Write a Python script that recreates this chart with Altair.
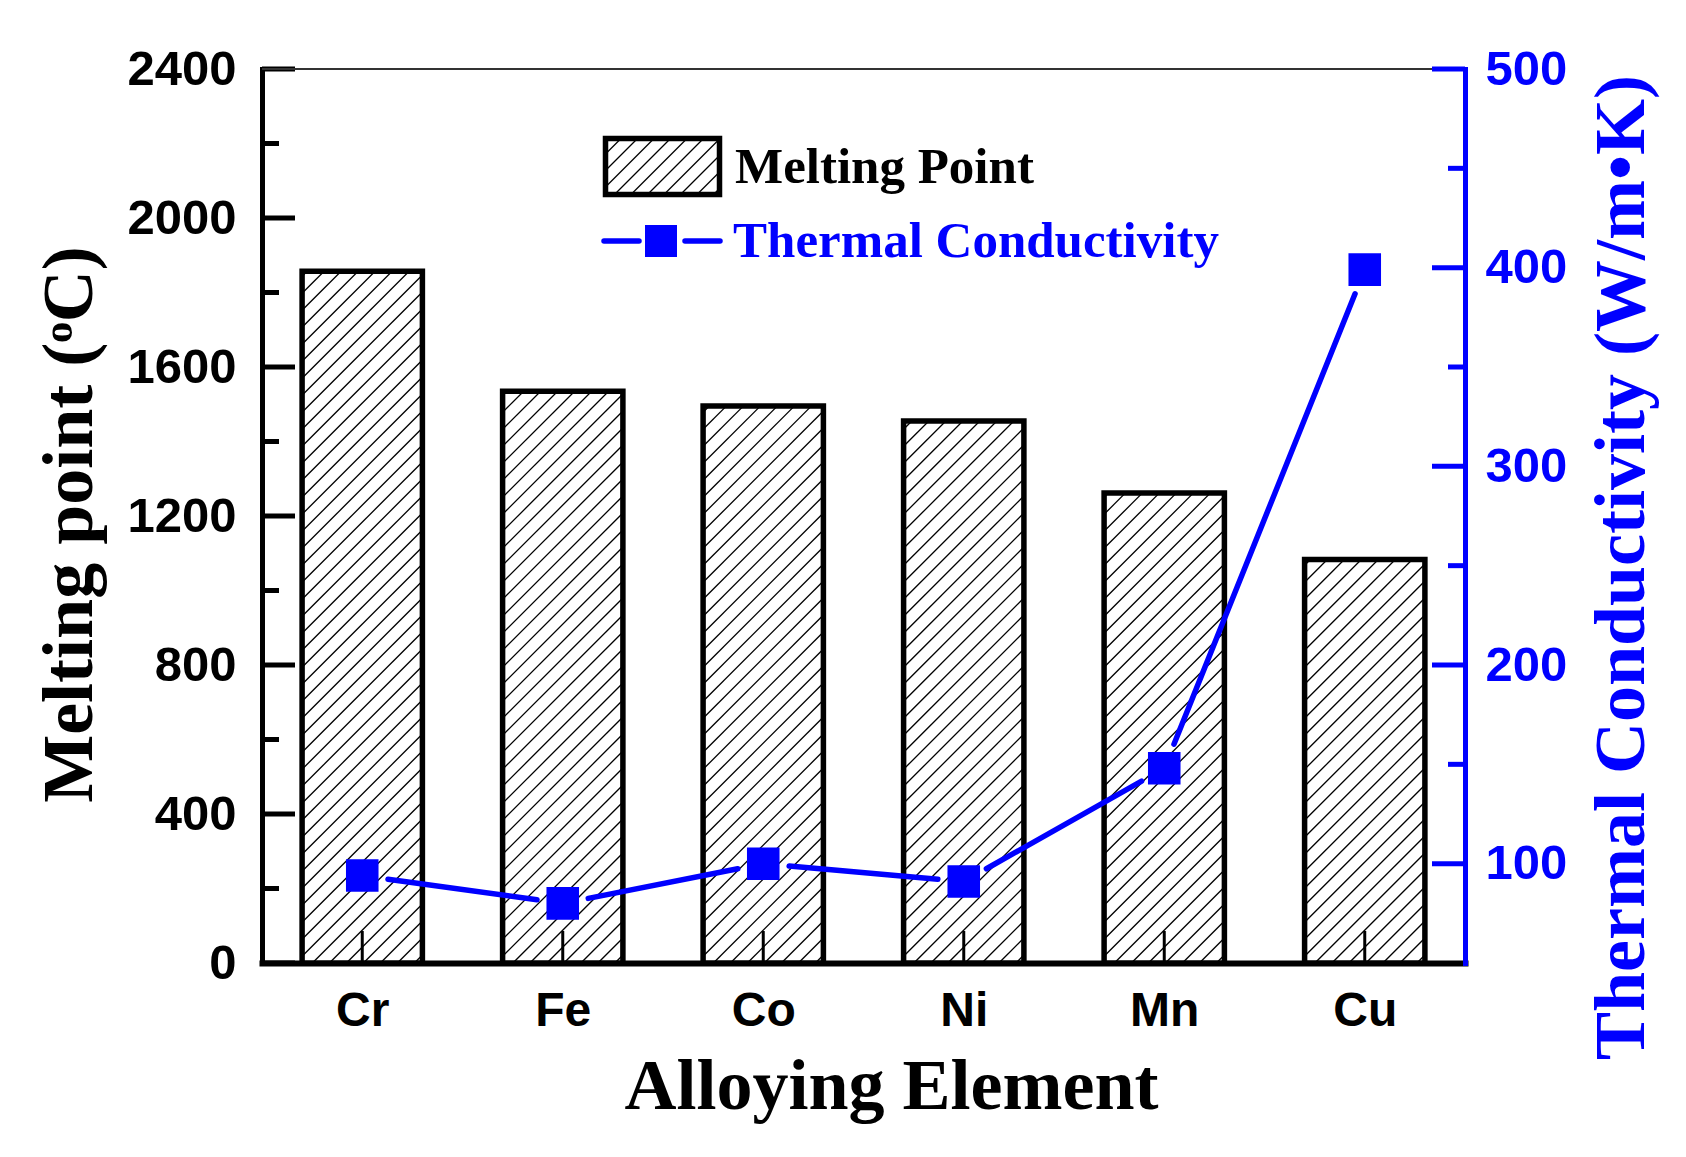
import json
import math
import altair as alt
import pandas as pd

# ---------------- data ----------------
elements = ["Cr", "Fe", "Co", "Ni", "Mn", "Cu"]
melting_point = [1857, 1535, 1495, 1455, 1262, 1083]
thermal_cond = [94, 80, 100, 91, 148, 399]

mp_ticks_major = [0, 400, 800, 1200, 1600, 2000, 2400]
mp_ticks_minor = [200, 600, 1000, 1400, 1800, 2200]
tc_ticks_major = [100, 200, 300, 400, 500]
tc_ticks_minor = [150, 250, 350, 450]

legend_labels = ["Melting Point", "Thermal Conductivity"]
x_title = "Alloying Element"
y_title = "Melting point (ᵒC)"
y2_title = "Thermal Conductivity (W/m•K)"

# ---------------- layout / style ----------------
W, H = 1203, 894
MP_DOMAIN = [0, 2400]
TC_DOMAIN = [50, 500]
X_DOMAIN = [-0.5, len(elements) - 0.5]
HALF = 0.3
BLUE = "#0000FF"
SANS = "Liberation Sans"
SERIF = "Liberation Serif"
HATCH_SP = 17.0
LINE_GAP = 26.0  # pixels between a marker centre and the start of its line segment

df = pd.DataFrame({"idx": list(range(len(elements))), "element": elements,
                   "mp": melting_point, "tc": thermal_cond})

px_x = W / (X_DOMAIN[1] - X_DOMAIN[0])
px_y = H / (MP_DOMAIN[1] - MP_DOMAIN[0])
px_tc = H / (TC_DOMAIN[1] - TC_DOMAIN[0])


def hatch(w, h, spacing, phase=0.0):
    segs = []
    c = -w + phase
    while c < h:
        u0 = max(0.0, -c)
        u1 = min(w, h - c)
        if u1 > u0:
            segs.append((u0, u0 + c, u1, u1 + c))
        c += spacing
    return segs


# hatch lines inside bars (data space, via the chart scales)
rows = []
bw = 2 * HALF * px_x
for i, v in enumerate(melting_point):
    for (u0, v0, u1, v1) in hatch(bw, v * px_y, HATCH_SP, 8.0):
        rows.append({"x0": i - HALF + u0 / px_x, "mp": v0 / px_y,
                     "x1": i - HALF + u1 / px_x, "mp2": v1 / px_y})
hatch_df = pd.DataFrame(rows)

# line segments between markers, with small gaps at the markers (Origin style)
seg_rows = []
for i in range(len(elements) - 1):
    dxp = 1.0 * px_x
    dyp = (thermal_cond[i + 1] - thermal_cond[i]) * px_tc
    L = math.hypot(dxp, dyp)
    f = LINE_GAP / L
    seg_rows.append({
        "sx0": i + f, "tc": thermal_cond[i] + f * (thermal_cond[i + 1] - thermal_cond[i]),
        "sx1": i + 1 - f, "tc2": thermal_cond[i + 1] - f * (thermal_cond[i + 1] - thermal_cond[i]),
    })
seg_df = pd.DataFrame(seg_rows)

# legend geometry (pixels, relative to plot area)
LX0, LX1, LY0, LY1 = 343.5, 457.5, 69.5, 125.5
lrows = []
for (u0, v0, u1, v1) in hatch(LX1 - LX0, LY1 - LY0, 16.5, 6.0):
    lrows.append({"lx0": LX0 + u0, "ly0": LY1 - v0, "lx1": LX0 + u1, "ly1": LY1 - v1})
lhatch_df = pd.DataFrame(lrows)

one = pd.DataFrame({"a": [0]})

xscale = alt.Scale(domain=X_DOMAIN, nice=False, zero=False)
yscale = alt.Scale(domain=MP_DOMAIN, nice=False)
tcscale = alt.Scale(domain=TC_DOMAIN, nice=False, zero=False)

label_expr = json.dumps(elements) + "[datum.value]"

xaxis = alt.Axis(values=list(range(len(elements))), labelExpr=label_expr,
                 ticks=False, tickSize=0, grid=False,
                 domainColor="black", domainWidth=6, domainCap="square",
                 labelFont=SANS, labelFontWeight="bold", labelFontSize=48,
                 labelColor="black", labelPadding=24, labelFlush=False,
                 labelOverlap=False, labelBaseline="top",
                 title=x_title, titleFont=SERIF, titleFontSize=72,
                 titleFontWeight="bold", titleColor="black",
                 titleX=629, titleY=145, titleBaseline="alphabetic",
                 titleAlign="center")

yaxis = alt.Axis(values=mp_ticks_major, ticks=False, tickSize=0, grid=False,
                 domainColor="black", domainWidth=5, domainCap="square",
                 labelFont=SANS, labelFontWeight="bold", labelFontSize=49,
                 labelColor="black", labelPadding=26, labelFlush=False,
                 labelOverlap=False, format="d",
                 title=y_title, titleFont=SERIF, titleFontSize=72,
                 titleFontWeight="bold", titleColor="black", titleAngle=270,
                 titleX=-193, titleY=455, titleAlign="center",
                 titleBaseline="middle")

y2axis = alt.Axis(orient="right", values=tc_ticks_major, ticks=False,
                  tickSize=0, grid=False,
                  domainColor=BLUE, domainWidth=5, domainCap="square",
                  labelFont=SANS, labelFontWeight="bold", labelFontSize=49,
                  labelColor=BLUE, labelPadding=20, labelFlush=False,
                  labelOverlap=False, format="d",
                  title=y2_title, titleFont=SERIF, titleFontSize=72,
                  titleFontWeight="bold", titleColor=BLUE, titleAngle=270,
                  titleX=156, titleY=498, titleAlign="center",
                  titleBaseline="middle")

# ---------------- left (melting point) group ----------------
bars = alt.Chart(df).transform_calculate(
    x0=f"datum.idx - {HALF}", x1=f"datum.idx + {HALF}"
).mark_rect(fill="white", stroke="black", strokeWidth=5.5).encode(
    x=alt.X("x0:Q", scale=xscale, axis=xaxis),
    x2="x1:Q",
    y=alt.Y("mp:Q", scale=yscale, axis=yaxis),
    y2=alt.datum(0),
)

hatch_layer = alt.Chart(hatch_df).mark_rule(color="black", strokeWidth=1.3).encode(
    x=alt.X("x0:Q", scale=xscale),
    x2="x1:Q",
    y=alt.Y("mp:Q", scale=yscale),
    y2="mp2:Q",
)

bottom_ticks = alt.Chart(df).mark_rule(color="black", strokeWidth=3).encode(
    x=alt.X("idx:Q", scale=xscale),
    y=alt.value(H), y2=alt.value(H - 32),
)

lt_major = alt.Chart(pd.DataFrame({"mp": mp_ticks_major})).mark_rule(
    color="black", strokeWidth=5).encode(
    y=alt.Y("mp:Q", scale=yscale), x=alt.value(0), x2=alt.value(33))
lt_minor = alt.Chart(pd.DataFrame({"mp": mp_ticks_minor})).mark_rule(
    color="black", strokeWidth=5).encode(
    y=alt.Y("mp:Q", scale=yscale), x=alt.value(0), x2=alt.value(17))

top_line = alt.Chart(one).mark_rule(color="#333333", strokeWidth=2).encode(
    y=alt.value(0), x=alt.value(0), x2=alt.value(W))

# legend
leg_box = alt.Chart(one).mark_rect(fill="white", stroke="black", strokeWidth=5.5).encode(
    x=alt.value(LX0), x2=alt.value(LX1), y=alt.value(LY0), y2=alt.value(LY1))
leg_hatch = alt.Chart(lhatch_df).mark_rule(color="black", strokeWidth=1.3).encode(
    x=alt.X("lx0:Q", scale=None), x2="lx1:Q",
    y=alt.Y("ly0:Q", scale=None), y2="ly1:Q")
leg_text1 = alt.Chart(one).mark_text(
    align="left", baseline="alphabetic", font=SERIF, fontWeight="bold",
    fontSize=51, color="black").encode(
    x=alt.value(473), y=alt.value(114), text=alt.value(legend_labels[0]))
leg_text2 = alt.Chart(one).mark_text(
    align="left", baseline="alphabetic", font=SERIF, fontWeight="bold",
    fontSize=51, color=BLUE).encode(
    x=alt.value(471), y=alt.value(188), text=alt.value(legend_labels[1]))
leg_line1 = alt.Chart(one).mark_rule(color=BLUE, strokeWidth=5.5, strokeCap="round").encode(
    x=alt.value(342), x2=alt.value(377), y=alt.value(172))
leg_line2 = alt.Chart(one).mark_rule(color=BLUE, strokeWidth=5.5, strokeCap="round").encode(
    x=alt.value(423), x2=alt.value(458), y=alt.value(172))
leg_marker = alt.Chart(one).mark_point(shape="square", filled=True, size=1024,
                                       color=BLUE, opacity=1).encode(
    x=alt.value(399), y=alt.value(172))

left = alt.layer(bars, hatch_layer, bottom_ticks, lt_major, lt_minor, top_line,
                 leg_box, leg_hatch, leg_text1, leg_text2, leg_line1, leg_line2,
                 leg_marker)

# ---------------- right (thermal conductivity) group ----------------
points = alt.Chart(df).mark_point(shape="square", filled=True, size=1060,
                                  color=BLUE, opacity=1).encode(
    x=alt.X("idx:Q", scale=xscale),
    y=alt.Y("tc:Q", scale=tcscale, axis=y2axis),
)
segments = alt.Chart(seg_df).mark_rule(color=BLUE, strokeWidth=5.5, strokeCap="round").encode(
    x=alt.X("sx0:Q", scale=xscale),
    x2="sx1:Q",
    y=alt.Y("tc:Q", scale=tcscale),
    y2="tc2:Q",
)
rt_major = alt.Chart(pd.DataFrame({"tc": tc_ticks_major})).mark_rule(
    color=BLUE, strokeWidth=5).encode(
    y=alt.Y("tc:Q", scale=tcscale), x=alt.value(W - 33), x2=alt.value(W))
rt_minor = alt.Chart(pd.DataFrame({"tc": tc_ticks_minor})).mark_rule(
    color=BLUE, strokeWidth=5).encode(
    y=alt.Y("tc:Q", scale=tcscale), x=alt.value(W - 17), x2=alt.value(W))

right = alt.layer(points, segments, rt_major, rt_minor)

chart = alt.layer(left, right).resolve_scale(y="independent").properties(
    width=W, height=H,
    padding={"left": 254, "top": 61, "right": 205, "bottom": 180},
    autosize=alt.AutoSizeParams(type="none"),
    background="white",
).configure_view(stroke=None).configure_axis(grid=False)

chart.save("out.html", embed_options={"renderer": "svg", "actions": False})
